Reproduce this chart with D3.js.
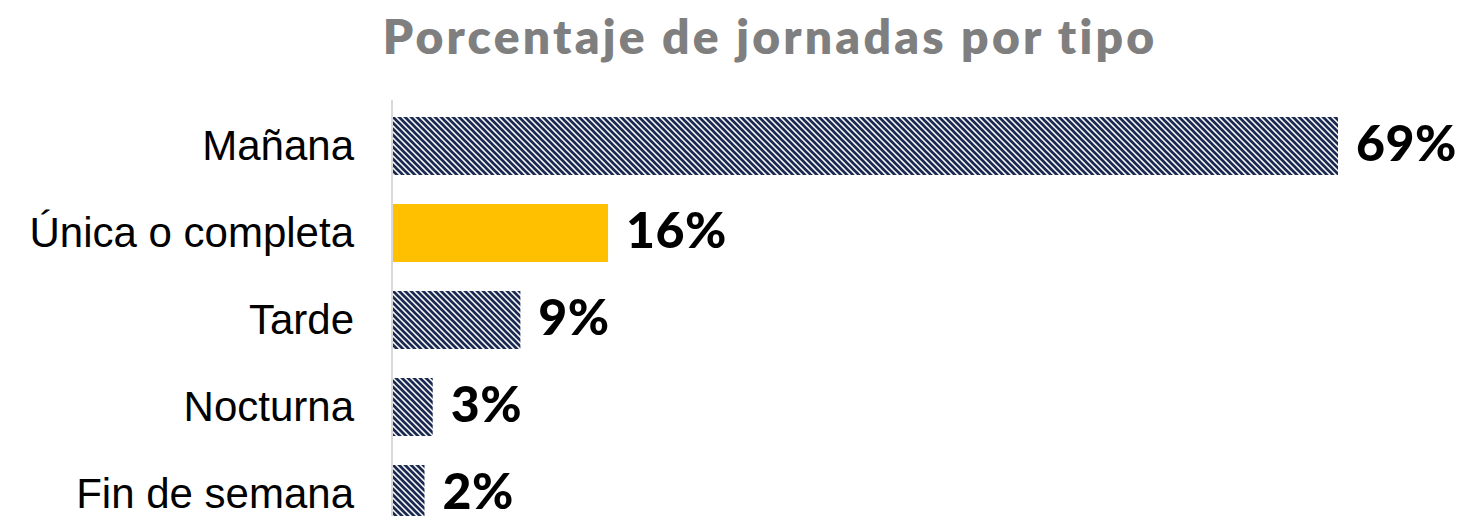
<!DOCTYPE html>
<html>
<head>
<meta charset="utf-8">
<script src="https://cdn.jsdelivr.net/npm/d3@7"></script>
<style>
  html, body { margin: 0; padding: 0; background: #ffffff; }
  svg { display: block; }
</style>
</head>
<body>
<div id="chart"></div>
<script>
// ---- data ----
const title = "Porcentaje de jornadas por tipo";
const categories = ["Mañana", "Única o completa", "Tarde", "Nocturna", "Fin de semana"];
const values = [69.0, 15.7, 9.3, 2.9, 2.3];
const valueLabels = ["69%", "16%", "9%", "3%", "2%"];
const highlighted = ["Única o completa"];

// ---- layout ----
const W = 1468, H = 516;
const svg = d3.select("#chart").append("svg")
  .attr("width", W).attr("height", H);

const defs = svg.append("defs");
const pat = defs.append("pattern")
  .attr("id", "hatch")
  .attr("patternUnits", "userSpaceOnUse")
  .attr("width", 6).attr("height", 6);
pat.append("rect").attr("width", 6).attr("height", 6).attr("fill", "#ffffff");
pat.append("path")
  .attr("d", "M-1,-1 L7,7 M-4,2 L2,8 M2,-4 L8,2")
  .attr("stroke", "#1b2a52")
  .attr("stroke-width", 2.7)
  .attr("fill", "none");

const x = d3.scaleLinear().domain([0, 69]).range([393, 1338]);
const y = d3.scaleBand().domain(categories)
  .range([102.5, 537.5]).paddingInner(1/3).paddingOuter(1/6);

// title
svg.append("text")
  .attr("x", 770).attr("y", 54)
  .attr("text-anchor", "middle")
  .attr("font-family", "Lato, 'Open Sans', sans-serif")
  .attr("font-weight", 800)
  .attr("font-size", 48)
  .attr("letter-spacing", 3.2)
  .attr("fill", "#7f7f7f")
  .text(title);

// bars
svg.selectAll("rect.bar").data(categories).join("rect")
  .attr("class", "bar")
  .attr("x", x(0))
  .attr("y", d => y(d))
  .attr("width", (d, i) => x(values[i]) - x(0))
  .attr("height", y.bandwidth())
  .attr("fill", d => highlighted.includes(d) ? "#ffc000" : "url(#hatch)");

// axis line
const axisG = svg.append("g").attr("transform", `translate(${x(0) - 1},0)`);
axisG.call(d3.axisLeft(y).tickSize(0).tickFormat(""));
axisG.select(".domain").attr("stroke", "#d9d9d9").attr("stroke-width", 2)
  .attr("d", `M0,100 V${H}`);

// category labels
svg.selectAll("text.cat").data(categories).join("text")
  .attr("class", "cat")
  .attr("x", 354)
  .attr("y", d => y(d) + y.bandwidth() / 2 + 14)
  .attr("text-anchor", "end")
  .attr("font-family", "'Liberation Sans', Arial, sans-serif")
  .attr("font-size", 42)
  .attr("fill", "#000000")
  .text(d => d);

// value labels
svg.selectAll("text.val").data(categories).join("text")
  .attr("class", "val")
  .attr("x", (d, i) => x(values[i]) + 18)
  .attr("y", d => y(d) + y.bandwidth() / 2 + 15)
  .attr("font-family", "Lato, 'Open Sans', sans-serif")
  .attr("font-weight", 900)
  .attr("font-size", 50)
  .attr("letter-spacing", 0.5)
  .attr("fill", "#000000")
  .text((d, i) => valueLabels[i]);
</script>
</body>
</html>
